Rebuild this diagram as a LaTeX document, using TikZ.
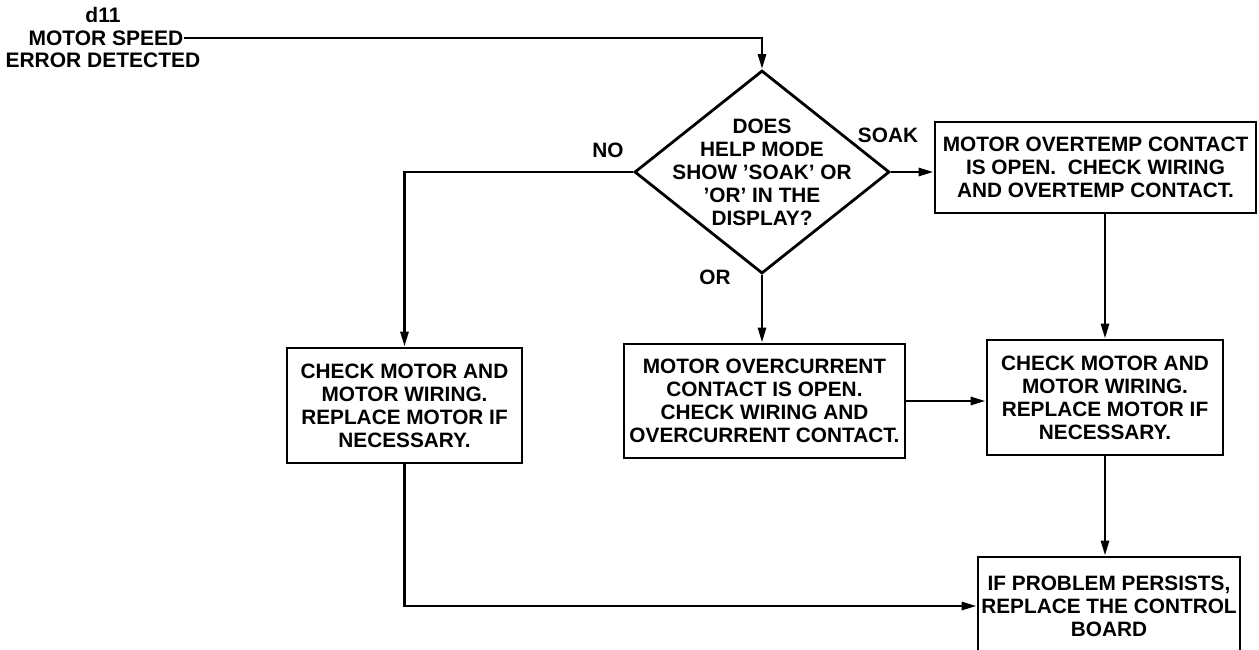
\documentclass[tikz,border=0pt]{standalone}
\usepackage{fontspec}
\setmainfont{Liberation Sans}
\usetikzlibrary{positioning,arrows.meta,shapes.geometric}

\begin{document}
\begin{tikzpicture}[x=1pt, y=-1pt,
  txt/.style={font=\bfseries\fontsize{20.8}{23}\selectfont, align=center, inner sep=0},
  head/.style={font=\bfseries\fontsize{21}{24}\selectfont, inner sep=0},
  box/.style={txt, draw, line width=2.8pt},
  dec/.style={diamond, draw, line width=2.8pt, inner sep=0,
              minimum width=255pt, minimum height=203pt},
  lab/.style={txt},
  arr/.style={-{Triangle[length=15pt, width=8pt]}, line width=2.8pt}]
\clip (0,0) rectangle (1259,649);
% start condition
\node[head] (d11) at (103,15) {d11};
\node[head] (speed) at (106,38) {MOTOR SPEED};
\node[head] (err) at (103,60) {ERROR DETECTED};
% question
\node[dec] (q) at (762,172) {};
\node[txt] (qtext) at (q.center) {DOES\\HELP MODE\\SHOW 'SOAK' OR\\'OR' IN THE\\DISPLAY?};
% actions
\node[box, minimum width=321pt, minimum height=91pt] (soak) at (1095.5,167.5)
  {MOTOR OVERTEMP CONTACT\\IS OPEN.~ CHECK WIRING\\AND OVERTEMP CONTACT.};
\node[box, minimum width=235pt, minimum height=115pt] (nomot) at (404.5,405.5)
  {CHECK MOTOR AND\\MOTOR WIRING.\\REPLACE MOTOR IF\\NECESSARY.};
\node[box, minimum width=281pt, minimum height=114pt] (ocur) at (764.5,401)
  {MOTOR OVERCURRENT\\CONTACT IS OPEN.\\CHECK WIRING AND\\OVERCURRENT CONTACT.};
\node[box, minimum width=236pt, minimum height=115pt] (rmot) at (1105,397.5)
  {CHECK MOTOR AND\\MOTOR WIRING.\\REPLACE MOTOR IF\\NECESSARY.};
\node[box, minimum width=262pt, minimum height=98pt] (board) at (1109,606)
  {IF PROBLEM PERSISTS,\\REPLACE THE CONTROL\\BOARD};
% branch labels
\node[lab] (no) at (608,150) {NO};
\node[lab] (soaklab) at (888,135) {SOAK};
\node[lab] (orlab) at (715,277) {OR};
% connectors
\draw[arr] (speed.east) -| (q.north);
\draw[arr] (q.west) -| (nomot.north);
\draw[arr] (q.east) -- (q.east -| soak.west);
\draw[arr] (q.south) -- (q.south |- ocur.north);
\draw[arr] (ocur.east) -- (ocur.east -| rmot.west);
\draw[arr] (rmot.north |- soak.south) -- (rmot.north);
\draw[arr] (rmot.south) -- (rmot.south |- board.north);
\draw[arr] (nomot.south) |- (board.west);
\end{tikzpicture}
\end{document}
